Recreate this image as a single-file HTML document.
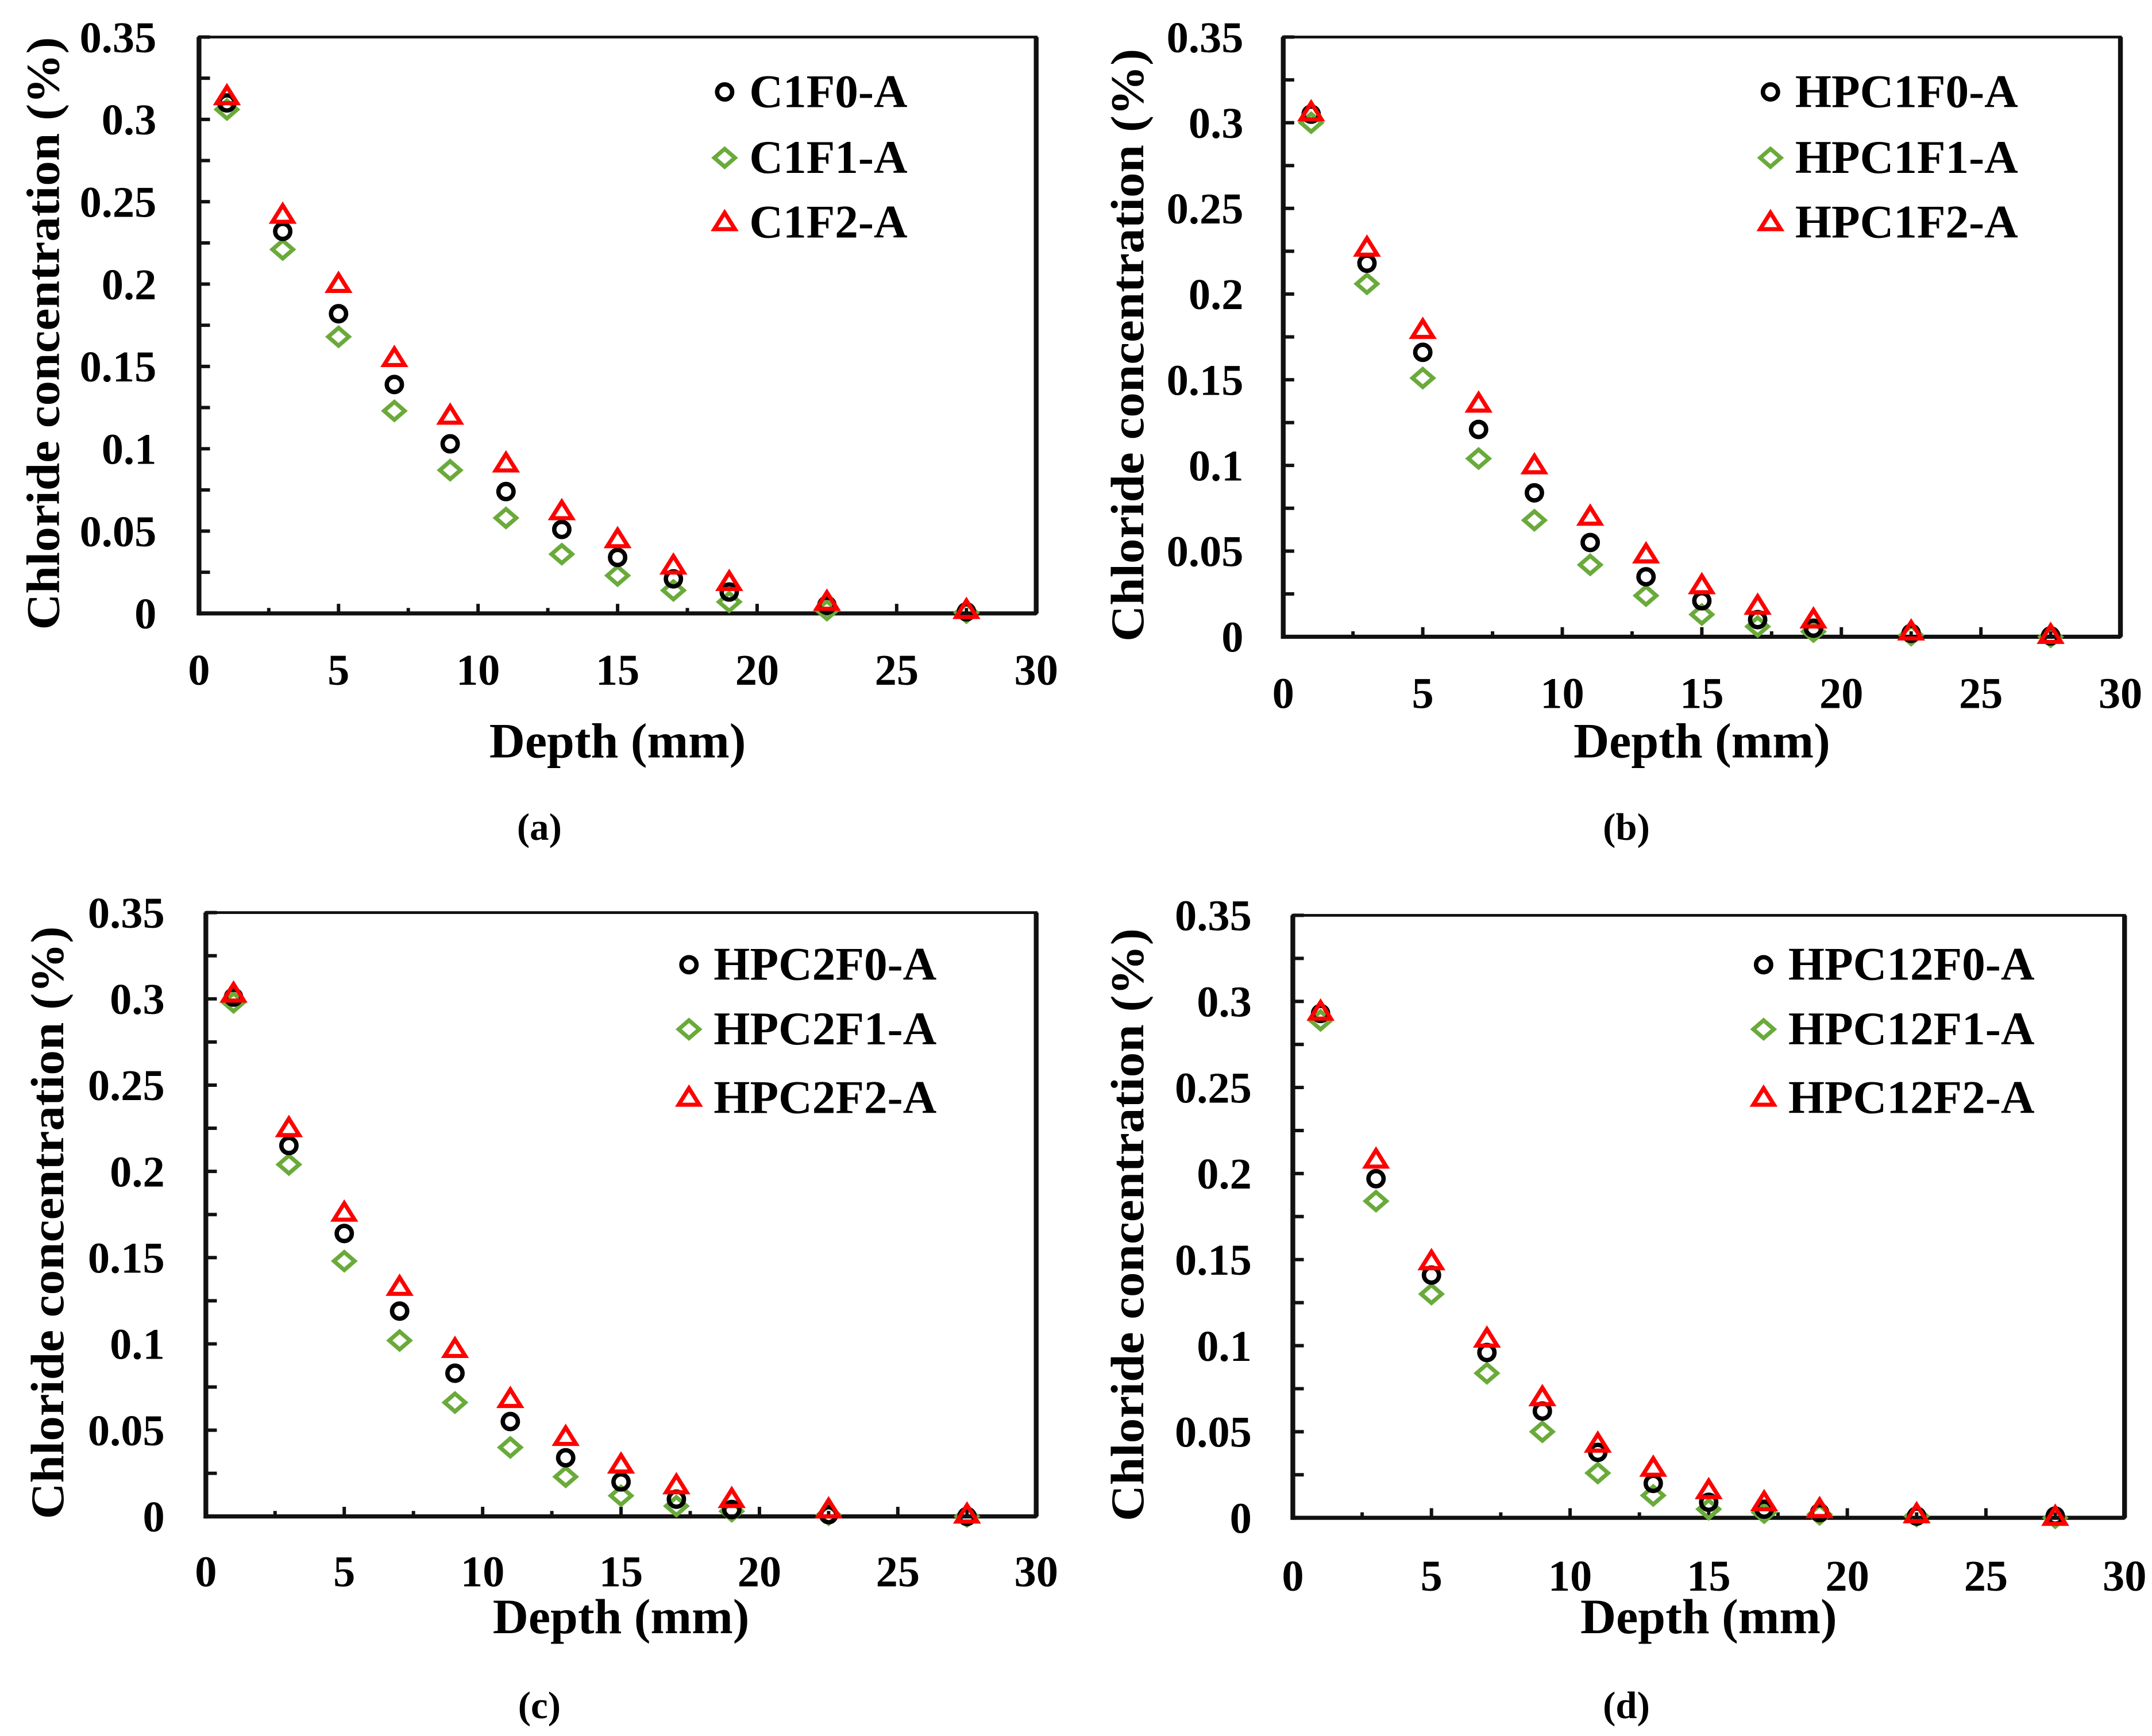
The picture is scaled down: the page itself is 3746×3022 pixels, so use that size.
<!DOCTYPE html>
<html><head><meta charset="utf-8"><style>
html,body{margin:0;padding:0;background:#fff;}
svg{display:block;}
text{font-family:"Liberation Serif",serif;font-weight:bold;fill:#000;}
</style></head><body>
<svg id="fig" width="3746" height="3022" viewBox="0 0 1568 1265" preserveAspectRatio="none" xmlns="http://www.w3.org/2000/svg"></svg>
<script>
const depths = [1,3,5,7,9,11,13,15,17,19,22.5,27.5];
const xTicks = [0,5,10,15,20,25,30];
const yTicks = [0,0.05,0.1,0.15,0.2,0.25,0.3,0.35];
const yTickLabels = ["0","0.05","0.1","0.15","0.2","0.25","0.3","0.35"];
const a_F0 = [.31,.232,.182,.139,.103,.074,.051,.034,.021,.013,.005,.001];
const a_F1 = [.306,.221,.168,.123,.087,.058,.036,.023,.014,.007,.002,.0005];
const a_F2 = [.314,.242,.2,.155,.12,.091,.062,.045,.029,.019,.007,.002];
const b_F0 = [.305,.218,.166,.121,.084,.055,.035,.021,.01,.005,.002,.0005];
const b_F1 = [.3,.206,.151,.104,.068,.042,.024,.013,.006,.003,.001,0];
const b_F2 = [.306,.227,.179,.136,.1,.07,.048,.03,.018,.01,.003,.001];
const c_F0 = [.301,.215,.164,.119,.083,.055,.034,.02,.01,.004,.001,0];
const c_F1 = [.298,.204,.148,.102,.066,.04,.023,.012,.006,.003,.001,0];
const c_F2 = [.303,.225,.176,.133,.097,.068,.046,.03,.018,.01,.004,.001];
const d_F0 = [.293,.197,.141,.096,.062,.038,.02,.009,.005,.003,.001,.001];
const d_F1 = [.289,.184,.13,.084,.05,.026,.013,.005,.003,.002,.001,0];
const d_F2 = [.294,.208,.149,.104,.07,.043,.029,.016,.009,.005,.002,.0005];
const a_names = ["C1F0-A","C1F1-A","C1F2-A"];
const b_names = ["HPC1F0-A","HPC1F1-A","HPC1F2-A"];
const c_names = ["HPC2F0-A","HPC2F1-A","HPC2F2-A"];
const d_names = ["HPC12F0-A","HPC12F1-A","HPC12F2-A"];

const NS="http://www.w3.org/2000/svg";
const svg=document.getElementById('fig');
function mk(tag,attrs,parent){const e=document.createElementNS(NS,tag);for(const k in attrs)e.setAttribute(k,attrs[k]);(parent||svg).appendChild(e);return e;}
function marker(g,type,cx,cy){
  let e;
  if(type===0){e=mk('circle',{cx:cx,cy:cy,r:5.5,fill:'none',stroke:'#000','stroke-width':3.2},g);}
  else if(type===1){e=mk('polygon',{points:`${cx},${cy-6.5} ${cx+7.5},${cy} ${cx},${cy+6.5} ${cx-7.5},${cy}`,fill:'none',stroke:'#6aaa3a','stroke-width':3},g);}
  else {e=mk('polygon',{points:`${cx},${cy-7} ${cx+7.5},${cy+5} ${cx-7.5},${cy+5}`,fill:'none',stroke:'#ff0000','stroke-width':3,'stroke-linejoin':'miter'},g);}
  return e;
}
const panels=[
 {id:'a',x0:145,x1:755,y0:447,y1:27,series:[a_F0,a_F1,a_F2],names:a_names,ytx:32,lab:114,lx:528,ly:[67,115,162],xl:488,xt:540,cap:[393,603]},
 {id:'b',x0:935,x1:1545,y0:464,y1:27,series:[b_F0,b_F1,b_F2],names:b_names,ytx:822,lab:906,lx:1290,ly:[67,115,162],xl:505,xt:540,cap:[1185,603]},
 {id:'c',x0:150,x1:755,y0:1105,y1:665,series:[c_F0,c_F1,c_F2],names:c_names,ytx:35,lab:120,lx:502,ly:[703,750,800],xl:1145,xt:1178,cap:[393,1243]},
 {id:'d',x0:942,x1:1548,y0:1106,y1:667,series:[d_F0,d_F1,d_F2],names:d_names,ytx:822,lab:912,lx:1285,ly:[703,750,800],xl:1148,xt:1178,cap:[1185,1243]}
];
panels.forEach(p=>{
  const g=mk('g',{});
  
  
  const X=v=>p.x0+(p.x1-p.x0)*v/30;
  const Y=v=>p.y0+(p.y1-p.y0)*v/0.35;
  const frame=mk('rect',{x:p.x0,y:p.y1,width:p.x1-p.x0,height:p.y0-p.y1,fill:'none',stroke:'#111','stroke-width':2},g);
  
  
  mk('line',{x1:p.x0,y1:p.y1,x2:p.x0,y2:p.y0+1.5,stroke:'#111','stroke-width':3.5},g);
  mk('line',{x1:p.x0,y1:p.y0,x2:p.x1,y2:p.y0,stroke:'#111','stroke-width':3},g);
  mk('line',{x1:p.x1,y1:p.y1,x2:p.x1,y2:p.y0,stroke:'#111','stroke-width':3.5},g);
  for(let i=0;i<=14;i++){const v=i*0.025;mk('line',{x1:p.x0,y1:Y(v),x2:p.x0+8,y2:Y(v),stroke:'#111','stroke-width':2.5},g);}
  for(let i=0;i<=12;i++){const v=i*2.5;mk('line',{x1:X(v),y1:p.y0,x2:X(v),y2:p.y0-(i%2?4:7),stroke:'#111','stroke-width':2.5},g);}
  yTicks.forEach((v,i)=>{const t=mk('text',{x:p.lab,y:Y(v)+11,'text-anchor':'end','font-size':32},g);t.textContent=yTickLabels[i];
    
    });
  xTicks.forEach(v=>{const t=mk('text',{x:X(v),y:p.xl+11,'text-anchor':'middle','font-size':32},g);t.textContent=String(v);
    
    });
  const yt=mk('text',{x:0,y:0,'text-anchor':'middle','font-size':34,transform:`translate(${p.ytx+11},${(p.y0+p.y1)/2+6}) rotate(-90)`,textLength:432,lengthAdjust:'spacingAndGlyphs'},g);
  yt.textContent='Chloride concentration (%)';
  
  
  const xt=mk('text',{x:(p.x0+p.x1)/2,y:p.xt+12,'text-anchor':'middle','font-size':36},g);
  xt.textContent='Depth (mm)';
  
  
  [1,0,2].forEach(s=>{
    p.series[s].forEach((v,i)=>{
      const m=marker(g,s,X(depths[i]),Y(v));
      
      
    });
  });
  p.names.forEach((n,s)=>{
    const m=marker(g,s,p.lx,p.ly[s]);
    
    
    const t=mk('text',{x:p.lx+18,y:p.ly[s]+11,'font-size':34},g);
    t.textContent=n;
    
    
  });
  const c=mk('text',{x:p.cap[0],y:p.cap[1]+9,'text-anchor':'middle','font-size':28,'font-weight':'normal'},g);
  c.innerHTML='(<tspan font-weight="bold">'+p.id+'</tspan>)';
  
  
});
</script>
</body></html>
